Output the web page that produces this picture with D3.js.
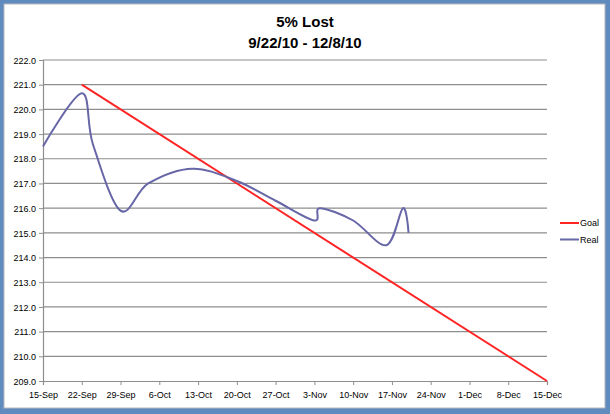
<!DOCTYPE html>
<html lang="en">
<meta charset="utf-8">
<style>
  body { margin: 0; background: #5f8bbf; }
  text { font-family: "Liberation Sans", Arial, sans-serif; }
</style>
<body>
<div id="my_dataviz"></div>

<script src="https://d3js.org/d3.v7.min.js"></script>
<script>

// data
var goalDates = ["2010-09-22", "2010-12-15"];
var goalValues = [221.0, 209.0];

var realDates = ["2010-09-15", "2010-09-22", "2010-09-24", "2010-09-29", "2010-10-04",
  "2010-10-12", "2010-10-20", "2010-10-27", "2010-11-03", "2010-11-04",
  "2010-11-10", "2010-11-16", "2010-11-19", "2010-11-20"];
var realValues = [218.5, 220.65, 218.6, 215.9, 217.0,
  217.6, 217.1, 216.3, 215.5, 216.0,
  215.5, 214.5, 216.0, 215.0];

var xTicks = ["2010-09-15", "2010-09-22", "2010-09-29", "2010-10-06", "2010-10-13",
  "2010-10-20", "2010-10-27", "2010-11-03", "2010-11-10", "2010-11-17",
  "2010-11-24", "2010-12-01", "2010-12-08", "2010-12-15"];
var yTicks = [209, 210, 211, 212, 213, 214, 215, 216, 217, 218, 219, 220, 221, 222];

var W = 610, H = 414;
var margin = {top: 60, right: 63, bottom: 33, left: 43},
  width = 547 - margin.left,
  height = 381 - margin.top;

var parse = d3.timeParse("%Y-%m-%d");
var fmt = d3.timeFormat("%-d-%b");

var svg = d3.select("#my_dataviz")
  .append("svg")
  .attr("width", W)
  .attr("height", H);

// white card with a thin gray edge
svg.append("rect")
  .attr("x", 4).attr("y", 4)
  .attr("width", 601).attr("height", 404)
  .attr("fill", "#fff")
  .attr("stroke", "#b8b8b8")
  .attr("stroke-width", 1);

// title
svg.append("text")
  .attr("x", 305).attr("y", 27)
  .attr("text-anchor", "middle")
  .style("font-size", "15px").style("font-weight", "bold")
  .text("5% Lost");
svg.append("text")
  .attr("x", 305).attr("y", 48)
  .attr("text-anchor", "middle")
  .style("font-size", "15px").style("font-weight", "bold")
  .text("9/22/10 - 12/8/10");

var g = svg.append("g")
  .attr("transform", "translate(" + margin.left + "," + margin.top + ")");

var x = d3.scaleTime()
  .domain([parse(xTicks[0]), parse(xTicks[xTicks.length - 1])])
  .range([0, width]);

var y = d3.scaleLinear()
  .domain([209, 222])
  .range([height, 0]);

// horizontal gridlines
g.append("g")
  .selectAll("line")
  .data(yTicks.slice(1))
  .enter()
  .append("line")
  .attr("x1", 0).attr("x2", width)
  .attr("y1", function(d) { return y(d); })
  .attr("y2", function(d) { return y(d); })
  .attr("stroke", "#8e8e8e")
  .attr("stroke-width", 1.2);

// y axis
var yAxis = g.append("g")
  .call(d3.axisLeft(y).tickValues(yTicks).tickSize(4).tickPadding(3)
    .tickFormat(d3.format(".1f")));

// x axis
var xAxis = g.append("g")
  .attr("transform", "translate(0," + height + ")")
  .call(d3.axisBottom(x).tickValues(xTicks.map(parse)).tickSize(4).tickPadding(7)
    .tickFormat(fmt));

[yAxis, xAxis].forEach(function(a) {
  a.select(".domain").attr("stroke", "#8e8e8e").attr("stroke-width", 1.2);
  a.selectAll(".tick line").attr("stroke", "#8e8e8e");
  a.selectAll("text").style("font-size", "9px").attr("fill", "#000")
    .style("font-family", "'Liberation Sans', Arial, sans-serif");
});
yAxis.selectAll("text").attr("dy", "0.35em");

// goal line
var goal = goalDates.map(function(d, i) { return {date: parse(d), value: goalValues[i]}; });
g.append("path")
  .datum(goal)
  .attr("fill", "none")
  .attr("stroke", "#ff2424")
  .attr("stroke-width", 2)
  .attr("d", d3.line()
    .x(function(d) { return x(d.date); })
    .y(function(d) { return y(d.value); }));

// real weight, smoothed like the spreadsheet did
var real = realDates.map(function(d, i) { return {date: parse(d), value: realValues[i]}; });
g.append("path")
  .datum(real)
  .attr("fill", "none")
  .attr("stroke", "#6766a6")
  .attr("stroke-width", 2)
  .attr("d", d3.line()
    .curve(d3.curveCardinal.tension(0))
    .x(function(d) { return x(d.date); })
    .y(function(d) { return y(d.value); }));

// legend
var legend = [["Goal", "#ff2424"], ["Real", "#6766a6"]];
var lg = svg.append("g").attr("transform", "translate(560,223)");
legend.forEach(function(l, i) {
  lg.append("line")
    .attr("x1", 0).attr("x2", 19)
    .attr("y1", i * 16.5).attr("y2", i * 16.5)
    .attr("stroke", l[1]).attr("stroke-width", 2);
  lg.append("text")
    .attr("x", 20).attr("y", i * 16.5)
    .attr("dy", "0.35em")
    .style("font-size", "9px")
    .text(l[0]);
});

</script>
</body>
</html>
